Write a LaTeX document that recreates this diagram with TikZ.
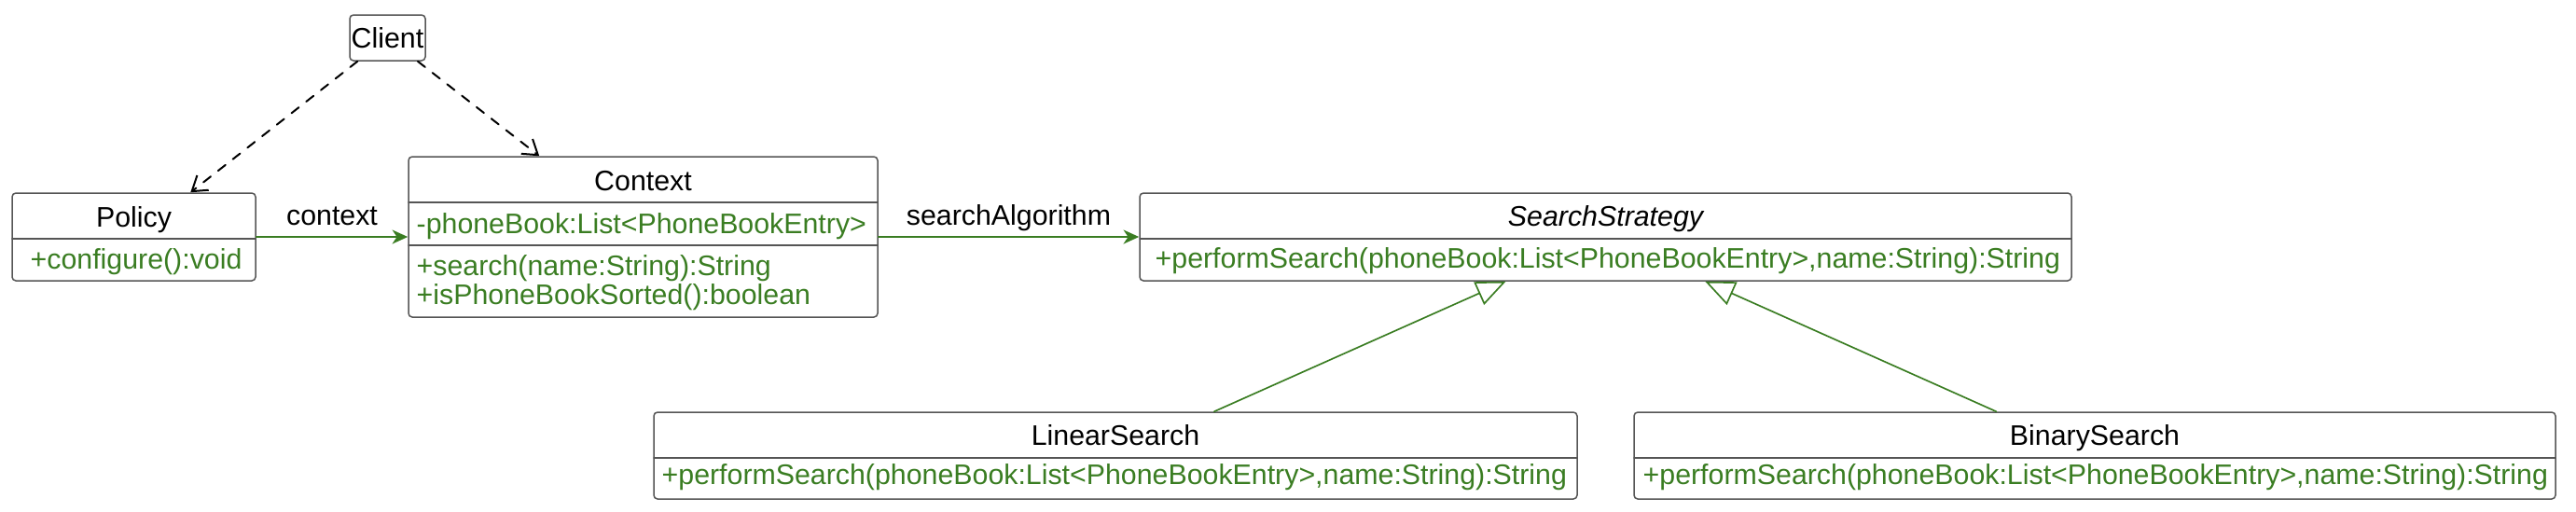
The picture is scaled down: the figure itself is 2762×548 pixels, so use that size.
\documentclass[tikz,border=0pt]{standalone}
\usepackage{fontspec}
\setmainfont{Liberation Sans}
\usetikzlibrary{arrows.meta}
\definecolor{umlgreen}{HTML}{3A7D22}
\definecolor{umlgray}{HTML}{555555}
\tikzset{
  cls/.style={draw=umlgray,line width=0.45pt,rounded corners=1.2pt,inner sep=0pt},
  sep/.style={draw=umlgray,line width=0.45pt},
  ttl/.style={anchor=base,inner sep=0pt},
  mem/.style={anchor=base west,inner sep=0pt,text=umlgreen},
  assoc/.style={umlgreen,line width=0.6pt,-{Stealth[length=5pt,width=4.5pt,inset=1.5pt]}},
  dep/.style={line width=0.6pt,dash pattern=on 3pt off 3pt,-{Straight Barb[length=4.5pt,width=6pt]}},
  inh/.style={umlgreen,line width=0.5pt,-{Triangle[open,length=9.5pt,width=8pt]}},
  lbl/.style={midway,above,inner sep=1.5pt,text depth=2pt,text=black}
}
\begin{document}
\begin{tikzpicture}[x=0.3pt,y=-0.3pt,line join=round,line cap=round,font=\fontsize{9.1pt}{11pt}\selectfont]
\useasboundingbox (0,0) rectangle (2762,548);
% classes
\node[cls,minimum width=24.3pt,minimum height=14.7pt] (cli) at (415.5,40.5) {Client};
\node[cls,minimum width=78.3pt,minimum height=28.2pt] (pol) at (143.5,254) {};
\draw[sep] (13,256)--(274,256);
\node[ttl] (pol-t) at (143.5,243) {Policy};
\node[mem] (pol-m) at (32,288) {+configure():void};
\node[cls,minimum width=150.9pt,minimum height=51.6pt] (ctx) at (689.5,254) {};
\draw[sep] (438,217)--(941,217) (438,263)--(941,263);
\node[ttl] (ctx-t) at (689.5,204) {Context};
\node[mem] (ctx-a) at (446,250) {-phoneBook:List<PhoneBookEntry>};
\node[mem] (ctx-m1) at (446,295) {+search(name:String):String};
\node[mem] (ctx-m2) at (446,326) {+isPhoneBookSorted():boolean};
\node[cls,minimum width=299.7pt,minimum height=28.2pt] (ss) at (1721.5,254) {};
\draw[sep] (1222,256)--(2221,256);
\node[ttl] (ss-t) at (1721.5,242) {\itshape SearchStrategy};
\node[mem] (ss-m) at (1238,287) {+performSearch(phoneBook:List<PhoneBookEntry>,name:String):String};
\node[cls,minimum width=297pt,minimum height=27.9pt] (lin) at (1196,488.5) {};
\draw[sep] (701,491)--(1691,491);
\node[ttl] (lin-t) at (1196,477) {LinearSearch};
\node[mem] (lin-m) at (709,519) {+performSearch(phoneBook:List<PhoneBookEntry>,name:String):String};
\node[cls,minimum width=296.4pt,minimum height=27.9pt] (bin) at (2246,488.5) {};
\draw[sep] (1752,491)--(2740,491);
\node[ttl] (bin-t) at (2246,477) {BinarySearch};
\node[mem] (bin-m) at (1761,519) {+performSearch(phoneBook:List<PhoneBookEntry>,name:String):String};
% relations
\draw[dep] (cli)--(pol);
\draw[dep] (cli)--(ctx);
\draw[assoc] (pol)--(ctx) node[lbl] (lbl-ctx) {context};
\draw[assoc] (ctx)--(ss) node[lbl] (lbl-alg) {searchAlgorithm};
\draw[inh] (lin)--(ss);
\draw[inh] (bin)--(ss);
\end{tikzpicture}
\end{document}
